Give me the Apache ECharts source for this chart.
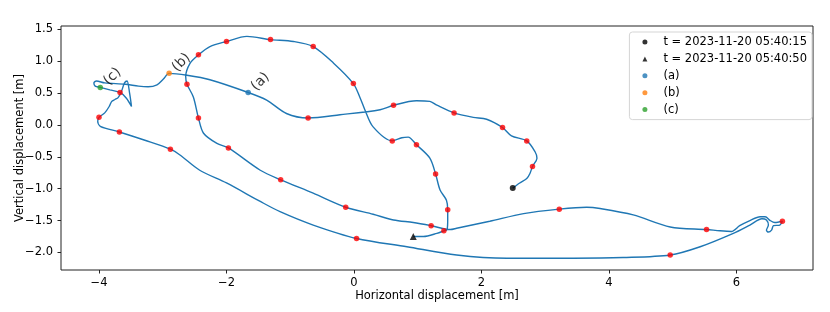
<!DOCTYPE html>
<html>
<head>
<meta charset="utf-8">
<script src="https://cdn.jsdelivr.net/npm/echarts@6/dist/echarts.min.js"></script>
<style>
html,body{margin:0;padding:0;background:#fff;}
#chart{width:830px;height:312px;}
</style>
</head>
<body>
<div id="chart"></div>
<script>
// ---- data ----
const trajectory = [
  [2.49,-0.99],[2.60,-0.91],[2.71,-0.84],[2.76,-0.76],[2.80,-0.65],[2.87,-0.52],[2.84,-0.42],
  [2.71,-0.25],[2.47,-0.17],[2.33,-0.04],[2.08,0.09],[1.87,0.12],[1.57,0.19],[1.30,0.31],
  [1.19,0.37],[0.98,0.38],[0.62,0.31],[0.41,0.24],[-0.22,0.16],[-0.72,0.11],[-1.06,0.18],
  [-1.37,0.39],[-1.66,0.51],[-2.26,0.71],[-2.62,0.78],[-2.90,0.81],[-2.99,0.72],[-3.09,0.63],
  [-3.23,0.60],[-3.38,0.61],[-3.59,0.64],[-3.91,0.66],[-4.04,0.69],[-4.08,0.66],[-4.06,0.61],
  [-3.98,0.59],[-3.83,0.55],[-3.67,0.51],[-3.57,0.42],[-3.49,0.29],[-3.52,0.50],[-3.56,0.69],
  [-3.60,0.66],[-3.65,0.52],[-3.70,0.43],[-3.75,0.40],[-3.80,0.37],[-3.84,0.29],[-3.91,0.19],
  [-4.00,0.12],[-4.02,0.06],[-3.98,-0.02],[-3.68,-0.11],[-3.28,-0.24],[-2.88,-0.38],[-2.73,-0.47],
  [-2.42,-0.71],[-2.00,-0.91],[-1.47,-1.20],[-1.16,-1.36],[-0.64,-1.57],[0.04,-1.78],[0.83,-1.91],
  [1.61,-2.04],[2.40,-2.09],[3.44,-2.09],[4.22,-2.08],[4.96,-2.04],[5.43,-1.91],[5.95,-1.70],
  [6.21,-1.57],[6.40,-1.47],[6.47,-1.49],[6.50,-1.57],[6.47,-1.65],[6.50,-1.68],[6.55,-1.65],
  [6.58,-1.58],[6.68,-1.57],[6.72,-1.51],[6.60,-1.53],[6.53,-1.50],[6.45,-1.44],[6.37,-1.44],
  [6.21,-1.50],[6.05,-1.58],[5.92,-1.67],[5.74,-1.66],[5.53,-1.64],[4.96,-1.60],[4.38,-1.41],
  [3.86,-1.31],[3.65,-1.29],[3.22,-1.32],[2.66,-1.39],[2.13,-1.51],[1.61,-1.62],[1.51,-1.64],
  [1.21,-1.58],[0.93,-1.53],[0.62,-1.49],[0.30,-1.40],[-0.13,-1.29],[-0.64,-1.07],[-1.15,-0.86],
  [-1.47,-0.71],[-1.97,-0.36],[-2.15,-0.29],[-2.36,-0.13],[-2.44,0.11],[-2.52,0.44],[-2.62,0.64],
  [-2.64,0.76],[-2.57,0.97],[-2.44,1.10],[-2.26,1.23],[-2.00,1.31],[-1.68,1.39],[-1.31,1.34],
  [-0.95,1.31],[-0.64,1.23],[-0.32,0.97],[-0.01,0.65],[0.09,0.44],[0.17,0.24],[0.30,-0.03],
  [0.60,-0.25],[0.75,-0.20],[0.85,-0.19],[0.98,-0.31],[1.19,-0.52],[1.28,-0.77],[1.35,-1.02],
  [1.45,-1.18],[1.47,-1.33],[1.47,-1.49],[1.46,-1.64],[1.41,-1.66],[1.30,-1.70],[1.09,-1.75],
  [0.93,-1.75]
];
const redDots = [
  [2.80,-0.65],[2.71,-0.25],[2.33,-0.04],[1.57,0.19],[0.62,0.31],[-0.72,0.11],
  [-3.67,0.51],[-4.00,0.12],[-3.68,-0.11],[-2.88,-0.38],[0.04,-1.78],[4.96,-2.04],
  [6.72,-1.51],[5.53,-1.64],[3.22,-1.32],[1.21,-1.58],[-0.13,-1.29],[-1.15,-0.86],
  [-1.97,-0.36],[-2.44,0.11],[-2.62,0.64],[-2.44,1.10],[-2.00,1.31],[-1.31,1.34],
  [-0.64,1.23],[-0.01,0.65],[0.60,-0.25],[0.98,-0.31],[1.28,-0.77],[1.47,-1.33],[1.41,-1.66]
];
const startPoint = [[2.49,-0.99]];
const endPoint = [[0.93,-1.75]];
const pointA = [[-1.66,0.51]];
const pointB = [[-2.90,0.81]];
const pointC = [[-3.98,0.59]];
const seriesNames = ['t = 2023-11-20 05:40:15','t = 2023-11-20 05:40:50','(a)','(b)','(c)'];
const annotationTexts = ['(a)','(b)','(c)'];
const xTicks = [-4,-2,0,2,4,6];
const yTicks = [-2.0,-1.5,-1.0,-0.5,0.0,0.5,1.0,1.5];
const xTitle = 'Horizontal displacement [m]';
const yTitle = 'Vertical displacement [m]';

// ---- chart ----
const FONT = 'DejaVu Sans';
const minus = s => s.replace('-', '\u2212');
const chart = echarts.init(document.getElementById('chart'), null, {renderer:'canvas'});

function annot(name, data, color, text) {
  return {
    name: name, type:'scatter', data: data, symbol:'circle', symbolSize:5.5,
    itemStyle:{color: color}, z: 5,
    label:{show:true, formatter: text, position:[15,-8], align:'center', verticalAlign:'middle',
      rotate:45, fontFamily:FONT, fontSize:14, color:'#000'}
  };
}

chart.setOption({
  animation:false,
  textStyle:{fontFamily:FONT},
  grid:{left:61, right:17, top:26, bottom:42, show:true, borderColor:'#222', borderWidth:1,
    containLabel:false, outerBoundsMode:'none'},
  xAxis:{
    type:'value', min:-4.596, max:7.2,
    name:xTitle, nameLocation:'middle', nameGap:20, nameMoveOverlap:false,
    nameTextStyle:{fontFamily:FONT, fontSize:11.5, color:'#000'},
    axisLine:{show:false, onZero:false},
    splitLine:{show:false},
    axisTick:{show:true, length:3.5, lineStyle:{color:'#222'}, customValues:xTicks},
    axisLabel:{fontFamily:FONT, fontSize:11.5, color:'#000', margin:7, customValues:xTicks,
      formatter: v => minus(String(v))}
  },
  yAxis:{
    type:'value', min:-2.275, max:1.553,
    name:yTitle, nameLocation:'middle', nameGap:35, nameMoveOverlap:false,
    nameTextStyle:{fontFamily:FONT, fontSize:11.5, color:'#000'},
    axisLine:{show:false, onZero:false},
    splitLine:{show:false},
    axisTick:{show:true, length:3.5, lineStyle:{color:'#222'}, customValues:yTicks},
    axisLabel:{fontFamily:FONT, fontSize:11.5, color:'#000', margin:8, customValues:yTicks,
      formatter: v => minus(Number(v).toFixed(1))}
  },
  legend:{
    orient:'vertical', right:18, top:32,
    data:[
      {name:seriesNames[0], icon:'circle'},
      {name:seriesNames[1], icon:'triangle'},
      {name:seriesNames[2], icon:'circle'},
      {name:seriesNames[3], icon:'circle'},
      {name:seriesNames[4], icon:'circle'}
    ],
    itemWidth:5, itemHeight:5, itemGap:2.9,
    padding:[3,5,3,13],
    borderColor:'#d5d5d5', borderWidth:1, borderRadius:3, backgroundColor:'rgba(255,255,255,0.85)',
    textStyle:{fontFamily:FONT, fontSize:11.5, color:'#000', lineHeight:14, padding:[0,0,0,11]}
  },
  series:[
    {type:'line', data:trajectory, showSymbol:false, smooth:0.3, z:2,
      lineStyle:{color:'#1f77b4', width:1.4}},
    {type:'scatter', data:redDots, symbol:'circle', symbolSize:5.5, itemStyle:{color:'#ff0000'}, z:3},
    {name:seriesNames[0], type:'scatter', data:startPoint, symbol:'circle', symbolSize:6, itemStyle:{color:'#000'}, z:4},
    {name:seriesNames[1], type:'scatter', data:endPoint, symbol:'triangle', symbolSize:7, itemStyle:{color:'#000'}, z:4},
    annot(seriesNames[2], pointA, '#1f77b4', annotationTexts[0]),
    annot(seriesNames[3], pointB, '#ff7f0e', annotationTexts[1]),
    annot(seriesNames[4], pointC, '#2ca02c', annotationTexts[2])
  ]
});
</script>
</body>
</html>
